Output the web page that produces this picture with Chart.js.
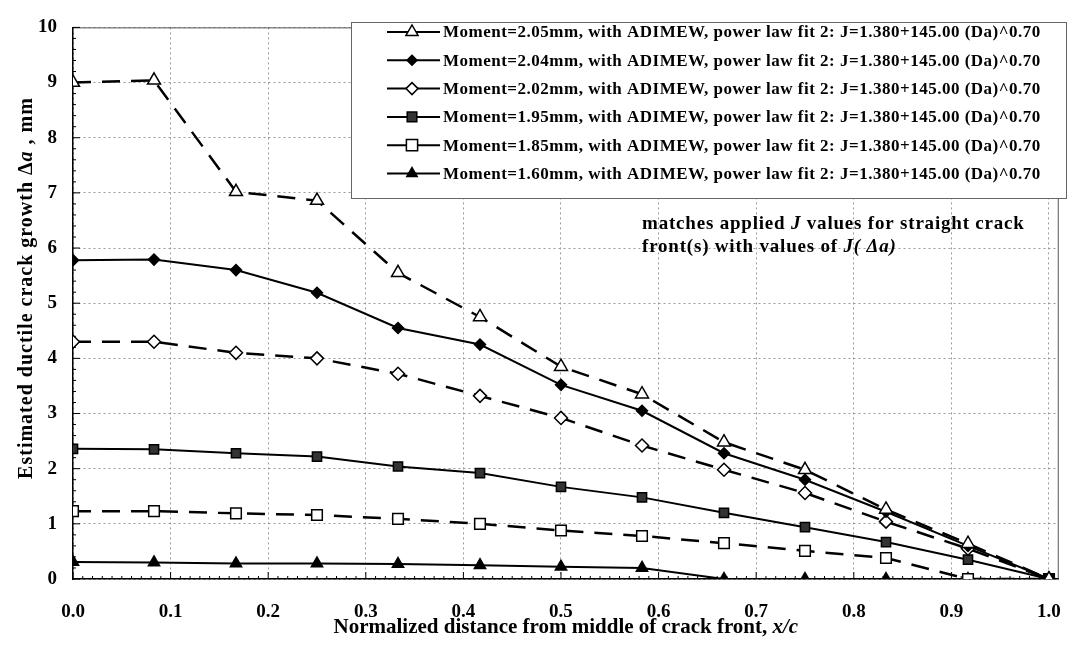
<!DOCTYPE html>
<html>
<head>
<meta charset="utf-8">
<script src="https://cdn.jsdelivr.net/npm/chart.js@4/dist/chart.umd.min.js"></script>
<style>
    body { margin: 0; background: #fff; }
    #wrap { width: 1083px; height: 647px; position: relative; }
</style>
</head>
<body>
<div id="wrap"><canvas id="chart-crack"></canvas></div>
<script>
// positions along the crack front, x/c
var xPos = [0, 0.083, 0.167, 0.25, 0.333, 0.417, 0.5, 0.583, 0.667, 0.75, 0.833, 0.917, 1.0];

// crack growth (mm) for each moment
var m205 = [9.0, 9.04, 7.02, 6.86, 5.55, 4.75, 3.85, 3.35, 2.48, 1.98, 1.26, 0.64, 0];
var m204 = [5.78, 5.79, 5.6, 5.19, 4.55, 4.25, 3.52, 3.05, 2.28, 1.8, 1.22, 0.6, 0];
var m202 = [4.3, 4.3, 4.1, 4.0, 3.72, 3.32, 2.92, 2.42, 1.98, 1.56, 1.04, 0.55, 0];
var m195 = [2.36, 2.35, 2.28, 2.22, 2.04, 1.92, 1.67, 1.48, 1.2, 0.94, 0.67, 0.35, 0];
var m185 = [1.23, 1.23, 1.19, 1.16, 1.09, 1.0, 0.88, 0.78, 0.65, 0.51, 0.38, 0, 0];
var m160 = [0.31, 0.3, 0.28, 0.28, 0.27, 0.25, 0.22, 0.2, 0, 0, 0, 0, 0];

var seriesLabels = [
    "Moment=2.05mm, with ADIMEW, power law fit 2: J=1.380+145.00 (Da)^0.70",
    "Moment=2.04mm, with ADIMEW, power law fit 2: J=1.380+145.00 (Da)^0.70",
    "Moment=2.02mm, with ADIMEW, power law fit 2: J=1.380+145.00 (Da)^0.70",
    "Moment=1.95mm, with ADIMEW, power law fit 2: J=1.380+145.00 (Da)^0.70",
    "Moment=1.85mm, with ADIMEW, power law fit 2: J=1.380+145.00 (Da)^0.70",
    "Moment=1.60mm, with ADIMEW, power law fit 2: J=1.380+145.00 (Da)^0.70"
];

var xTicks = [0, 0.1, 0.2, 0.3, 0.4, 0.5, 0.6, 0.7, 0.8, 0.9, 1.0];
var yTicks = [0, 1, 2, 3, 4, 5, 6, 7, 8, 9, 10];

var SERIF = '"Liberation Serif", "Times New Roman", serif';

function pts(ys) {
    return ys.map(function(v, i) { return {x: xPos[i], y: v}; });
}

// marker look per series: [pointStyle, radius, fill, dashed]
var looks = [
    ["triangle", 7.5, "#fff", true],
    ["rectRot", 5.5, "#000", false],
    ["rectRot", 6.5, "#fff", true],
    ["rect", 6.5, "#333", false],
    ["rect", 7.5, "#fff", true],
    ["triangle", 6.5, "#000", false]
];
var allSeries = [m205, m204, m202, m195, m185, m160];

var datasets = allSeries.map(function(s, i) {
    var lk = looks[i];
    return {
        label: seriesLabels[i],
        data: pts(s),
        borderColor: "#000",
        borderWidth: lk[3] ? 2.5 : 2,
        borderDash: lk[3] ? [18, 11] : [],
        pointStyle: lk[0],
        pointRadius: lk[1],
        pointBackgroundColor: lk[2],
        pointBorderColor: "#000",
        pointBorderWidth: 1.5,
        fill: false,
        tension: 0
    };
});

// small marker painter for the legend box
function marker(ctx, style, r, fill, x, y) {
    ctx.save();
    ctx.fillStyle = fill;
    ctx.strokeStyle = "#000";
    ctx.lineWidth = 1.5;
    ctx.setLineDash([]);
    ctx.beginPath();
    if (style == "triangle") {
        ctx.moveTo(x, y - r);
        ctx.lineTo(x + r * 0.866, y + r * 0.5);
        ctx.lineTo(x - r * 0.866, y + r * 0.5);
        ctx.closePath();
    } else if (style == "rectRot") {
        ctx.moveTo(x, y - r);
        ctx.lineTo(x + r, y);
        ctx.lineTo(x, y + r);
        ctx.lineTo(x - r, y);
        ctx.closePath();
    } else {
        var s = r * 0.8;
        ctx.rect(x - s, y - s, s * 2, s * 2);
    }
    ctx.fill();
    ctx.stroke();
    ctx.restore();
}

// text made of runs, each [string, italic]
function runs(ctx, parts, x, y, size, align, spacing) {
    ctx.letterSpacing = (spacing || 0) + "px";
    var total = 0;
    parts.forEach(function(p) {
        ctx.font = (p[1] ? "italic " : "") + "bold " + size + "px " + SERIF;
        total += ctx.measureText(p[0]).width;
    });
    var cx = align == "center" ? x - total / 2 : x;
    parts.forEach(function(p) {
        ctx.font = (p[1] ? "italic " : "") + "bold " + size + "px " + SERIF;
        ctx.fillText(p[0], cx, y);
        cx += ctx.measureText(p[0]).width;
    });
    ctx.letterSpacing = "0px";
}

var extras = {
    id: "extras",
    beforeDatasetsDraw: function(chart) {
        var ctx = chart.ctx, a = chart.chartArea;
        var xs = chart.scales.x, ys = chart.scales.y;
        ctx.save();
        // top and right frame
        ctx.strokeStyle = "#555";
        ctx.lineWidth = 1;
        ctx.beginPath();
        ctx.moveTo(a.left, a.top + 0.5);
        ctx.lineTo(a.right - 0.5, a.top + 0.5);
        ctx.lineTo(a.right - 0.5, a.bottom);
        ctx.stroke();
        // minor ticks inside the axes
        ctx.strokeStyle = "#000";
        ctx.beginPath();
        for (var i = 0; i <= 100; i++) {
            var px = xs.getPixelForValue(i / 100);
            var len = i % 10 == 0 ? 7 : 3;
            ctx.moveTo(px, a.bottom);
            ctx.lineTo(px, a.bottom - len);
        }
        for (var j = 0; j <= 50; j++) {
            var py = ys.getPixelForValue(j / 5);
            var l2 = j % 5 == 0 ? 7 : 3;
            ctx.moveTo(a.left, py);
            ctx.lineTo(a.left + l2, py);
        }
        ctx.stroke();
        ctx.restore();
    },
    afterDraw: function(chart) {
        var ctx = chart.ctx, a = chart.chartArea;
        ctx.save();
        ctx.fillStyle = "#000";
        ctx.textBaseline = "middle";

        // legend box
        var lx = 351, ly = 22, lw = 715, lh = 176;
        ctx.fillStyle = "#fff";
        ctx.fillRect(lx, ly, lw, lh);
        ctx.strokeStyle = "#666";
        ctx.lineWidth = 1;
        ctx.strokeRect(lx + 0.5, ly + 0.5, lw, lh);
        ctx.fillStyle = "#000";
        seriesLabels.forEach(function(txt, i) {
            var y = 32 + i * 28.3;
            ctx.strokeStyle = "#000";
            ctx.lineWidth = 2;
            ctx.beginPath();
            ctx.moveTo(387, y);
            ctx.lineTo(440, y);
            ctx.stroke();
            var lk = looks[i];
            marker(ctx, lk[0], lk[1] - 0.5, lk[2], 412, y);
            ctx.textAlign = "left";
            runs(ctx, [[txt, false]], 443, y + 1, 17, "left", 0.5);
        });

        // note on the right
        ctx.textAlign = "left";
        runs(ctx, [["matches applied ", false], ["J", true], [" values for straight crack", false]], 642, 224, 19, "left", 0.8);
        runs(ctx, [["front(s) with values of ", false], ["J( \u0394a)", true]], 642, 247, 19, "left", 0.8);

        // axis titles
        runs(ctx, [["Normalized distance from middle of crack front, ", false], ["x/c", true]],
            (a.left + a.right) / 2, 628, 21, "center", 0);
        ctx.translate(27, 288);
        ctx.rotate(-Math.PI / 2);
        runs(ctx, [["Estimated ductile crack growth \u0394", false], ["a", true], [" , mm", false]], 0, 0, 20, "center", 1);
        ctx.restore();
    }
};

var ctx = document.getElementById("chart-crack").getContext("2d");

new Chart(ctx, {
    type: "line",
    data: { datasets: datasets },
    options: {
        responsive: true,
        maintainAspectRatio: false,
        animation: false,
        layout: { padding: { top: 14, right: 13, left: 0, bottom: 0 } },
        plugins: {
            legend: { display: false },
            tooltip: { enabled: false }
        },
        scales: {
            x: {
                type: "linear",
                min: 0,
                max: 1.01,
                afterBuildTicks: function(scale) {
                    scale.ticks = xTicks.map(function(v) { return {value: v}; });
                },
                afterFit: function(scale) { scale.height = 68; },
                grid: { color: "#9a9a9a", drawTicks: false, lineWidth: 1 },
                border: { display: true, color: "#000", width: 1.5, dash: [2, 3] },
                ticks: {
                    color: "#000",
                    padding: 22,
                    maxRotation: 0,
                    font: { family: SERIF, size: 19, weight: "bold" },
                    callback: function(v) { return Number(v).toFixed(1); }
                }
            },
            y: {
                min: 0,
                max: 10,
                afterBuildTicks: function(scale) {
                    scale.ticks = yTicks.map(function(v) { return {value: v}; });
                },
                afterFit: function(scale) { scale.width = 73; },
                grid: { color: "#9a9a9a", drawTicks: false, lineWidth: 1 },
                border: { display: true, color: "#000", width: 1.5, dash: [2, 3] },
                ticks: {
                    color: "#000",
                    padding: 16,
                    font: { family: SERIF, size: 19, weight: "bold" }
                }
            }
        }
    },
    plugins: [extras]
});
</script>
</body>
</html>
